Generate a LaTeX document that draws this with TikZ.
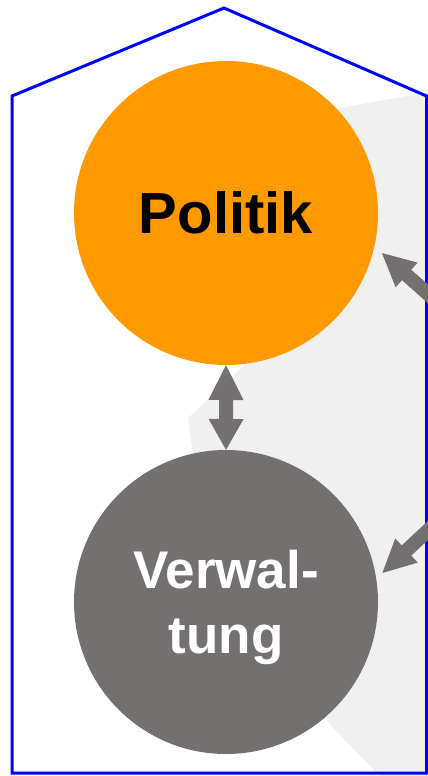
\documentclass[tikz,border=0pt]{standalone}
\usepackage{fontspec}
\setmainfont{Liberation Sans}
\usetikzlibrary{calc}
\definecolor{orangeP}{HTML}{FF9900}
\definecolor{greyV}{HTML}{747070}
\definecolor{bgGrey}{HTML}{F0F0F0}
\definecolor{frameBlue}{HTML}{0000FF}
\tikzset{
  bigcircle/.style={circle, minimum size=304pt, inner sep=0pt, align=center},
  arrowfill/.style={fill=greyV, draw=none},
  frameline/.style={draw=frameBlue, line width=3pt, line join=miter}
}
\begin{document}
\begin{tikzpicture}[x=1pt,y=1pt]
\useasboundingbox (0,0) rectangle (428,-776);
% light grey background area
\fill[bgGrey] (340,-108) -- (428,-92) -- (428,-776) -- (380,-776) -- (330,-725)
  -- (195,-470) -- (188,-418) -- (250,-360) -- (300,-200) -- cycle;
% frame
\draw[frameline] (12,-96) -- (224,-8) -- (426.5,-96) -- (426.5,-773) -- (12,-773) -- cycle;
% circles
\node[bigcircle, fill=orangeP, text=black, font=\fontsize{58}{64}\selectfont\bfseries] (pol) at (226,-213)
  {Politik};
\node[bigcircle, fill=greyV] (ver) at (226,-602) {};
\node[text=white, align=center, font=\fontsize{53}{65}\selectfont\bfseries, yshift=-5pt] (vertext) at (ver.center)
  {Verwal-\\tung};
% double arrow between circles
\fill[arrowfill] (pol.south) -- ++(17.5,-35) -- ++(-10.5,0) -- ++(0,-19)
  -- ++(10.5,0) -- (ver.north) -- ++(-17.5,31) -- ++(10.5,0) -- ++(0,19)
  -- ++(-10.5,0) -- cycle;
% arrows from the right
\coordinate (t1) at ($(pol.center)+(-14.4:161)$);
\coordinate (t2) at ($(ver.center)+(10.5:159)$);
\fill[arrowfill, shift={(t1)}, rotate=138.4]
  (0,0) -- (-33,16.5) -- (-33,7) -- (-90,7) -- (-90,-7) -- (-33,-7) -- (-33,-16.5) -- cycle;
\fill[arrowfill, shift={(t2)}, rotate=223]
  (0,0) -- (-33,16.5) -- (-33,7) -- (-90,7) -- (-90,-7) -- (-33,-7) -- (-33,-16.5) -- cycle;
\end{tikzpicture}
\end{document}
